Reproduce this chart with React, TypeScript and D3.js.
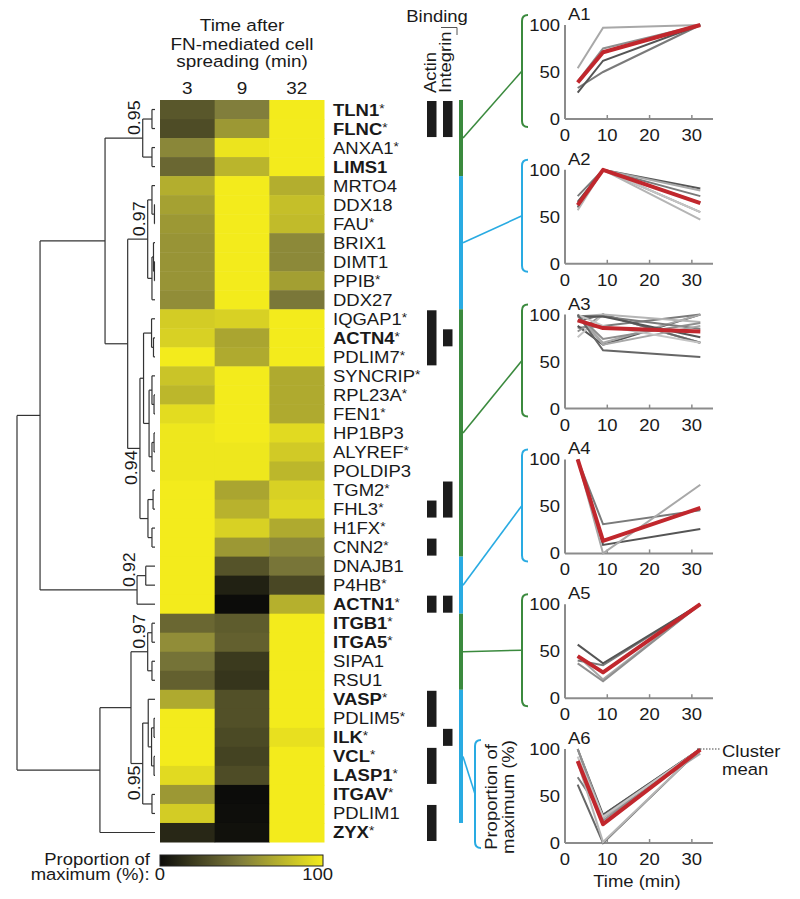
import React from "react";
import * as d3 from "d3";

// ---------- DATA ----------
const genes = [
  "TLN1", "FLNC", "ANXA1", "LIMS1", "MRTO4", "DDX18", "FAU", "BRIX1", "DIMT1", "PPIB", "DDX27",
  "IQGAP1", "ACTN4", "PDLIM7", "SYNCRIP", "RPL23A", "FEN1", "HP1BP3", "ALYREF", "POLDIP3", "TGM2",
  "FHL3", "H1FX", "CNN2", "DNAJB1", "P4HB", "ACTN1", "ITGB1", "ITGA5", "SIPA1", "RSU1", "VASP",
  "PDLIM5", "ILK", "VCL", "LASP1", "ITGAV", "PDLIM1", "ZYX",
];
const boldGenes = ["TLN1", "FLNC", "LIMS1", "ACTN4", "ACTN1", "ITGB1", "ITGA5", "VASP", "ILK", "VCL", "LASP1", "ITGAV", "ZYX"];
const starGenes = [
  "TLN1", "FLNC", "ANXA1", "FAU", "PPIB", "IQGAP1", "ACTN4", "PDLIM7", "SYNCRIP", "RPL23A", "FEN1",
  "ALYREF", "TGM2", "FHL3", "H1FX", "CNN2", "P4HB", "ACTN1", "ITGB1", "ITGA5", "VASP", "PDLIM5",
  "ILK", "VCL", "LASP1", "ITGAV", "ZYX",
];
const timePoints = [3, 9, 32];
const min3 = [33, 28, 54, 40, 72, 66, 62, 60, 60, 60, 57, 86, 88, 100, 82, 76, 93, 98, 98, 98, 100, 100, 100, 100, 100, 100, 100, 40, 57, 45, 37, 70, 100, 100, 100, 92, 62, 86, 12];
const min9 = [50, 62, 97, 75, 100, 100, 100, 100, 100, 100, 100, 88, 68, 70, 100, 100, 100, 100, 98, 98, 68, 74, 88, 62, 31, 9, 0, 35, 37, 20, 18, 30, 30, 27, 24, 28, 0, 1, 2];
const min32 = [100, 100, 100, 100, 72, 80, 78, 55, 55, 65, 47, 100, 100, 100, 70, 70, 70, 92, 85, 76, 88, 91, 70, 55, 46, 26, 73, 100, 100, 100, 100, 100, 100, 95, 100, 100, 100, 100, 100];
const clusterNames = ["A1", "A2", "A3", "A4", "A5", "A6"];
const clusterSizes = [4, 7, 13, 3, 4, 7];
const actinBinding = ["TLN1", "FLNC", "IQGAP1", "ACTN4", "PDLIM7", "FHL3", "CNN2", "ACTN1", "VASP", "PDLIM5", "VCL", "LASP1", "PDLIM1", "ZYX"];
const integrinBinding = ["TLN1", "FLNC", "ACTN4", "TGM2", "FHL3", "ACTN1", "ILK"];
const yTicks = [0, 50, 100];
const xTicks = [0, 10, 20, 30];

// dendrogram: [left, right, height, support label?, label side?]
type Tree = string | [Tree, Tree, number, string?, string?];
const dendrogram: Tree = [
  [
    [
      [["TLN1", "FLNC", 0.022], ["ANXA1", "LIMS1", 0.022], 0.089, "0.95", "up"],
      [
        [["MRTO4", ["DDX18", "FAU", 0.004], 0.022], [["BRIX1", ["DIMT1", "PPIB", 0.004], 0.011], "DDX27", 0.022], 0.053, "0.97", "up"],
        [
          [
            ["IQGAP1", ["ACTN4", "PDLIM7", 0.011], 0.025],
            [["SYNCRIP", ["RPL23A", "FEN1", 0.007], 0.022], [["HP1BP3", "ALYREF", 0.007], "POLDIP3", 0.022], 0.043],
            0.083,
          ],
          [["TGM2", "FHL3", 0.014], ["H1FX", "CNN2", 0.022], 0.051],
          0.109, "0.94", "down",
        ],
        0.198,
      ],
      0.362,
    ],
    [["DNAJB1", "P4HB", 0.067], "ACTN1", 0.13, "0.92", "up"],
    0.833,
  ],
  [
    [
      [["ITGB1", "ITGA5", 0.022], ["SIPA1", "RSU1", 0.022], 0.053, "0.97", "up"],
      [["VASP", [["PDLIM5", "ILK", 0.007], ["VCL", "LASP1", 0.007], 0.025], 0.049], ["ITGAV", "PDLIM1", 0.022], 0.089, "0.95", "down"],
      0.174,
    ],
    "ZYX",
    0.399,
  ],
  1.0,
];

// ---------- STYLE ----------
const FONT = "'Liberation Sans', Arial, Helvetica, sans-serif";
const SX = 1.1;
const GREEN = "#3b8a3e";
const BLUE = "#29abe2";
const RED = "#c1272d";
const AXIS = "#8c8c8c";
const INK = "#1a1a1a";
const grays = ["#7a7a7a", "#555555", "#a8a8a8", "#8f8f8f", "#c4c4c4", "#666666", "#b5b5b5"];

function Txt(props: any) {
  const { x, y, rot = 0, size = 16.8, anchor = "start", weight = "normal", fill = INK, children } = props;
  return (
    <text
      transform={`translate(${x},${y}) rotate(${rot}) scale(${SX},1)`}
      fontSize={size}
      textAnchor={anchor}
      fontWeight={weight}
      fill={fill}
    >
      {children}
    </text>
  );
}

export default function App() {
  const rowY = d3.scaleBand<string>().domain(genes).range([100, 842]);
  const rh = rowY.bandwidth();
  const rc = (g: string) => (rowY(g) as number) + rh / 2;
  const colX = d3.scaleBand<string>().domain(timePoints.map(String)).range([160, 324]);
  const series = [min3, min9, min32];
  const color = d3
    .scaleLinear<string>()
    .domain([0, 50, 100])
    .range(["#0c0c0a", "#817e3c", "#f3eb1c"])
    .interpolate(d3.interpolateRgb);

  // dendrogram layout
  const hx = d3.scaleLinear().domain([0, 1]).range([155, 17]);
  const segs: number[][] = [];
  const supLabels: { x: number; y: number; t: string; side: string }[] = [];
  function lay(n: Tree): { y: number; h: number } {
    if (typeof n === "string") return { y: rc(n), h: 0 };
    const [l, r, h, lab, side] = n;
    const a = lay(l);
    const b = lay(r);
    const x = hx(h);
    segs.push([x, a.y, x, b.y]);
    segs.push([x, a.y, hx(a.h), a.y]);
    segs.push([x, b.y, hx(b.h), b.y]);
    const y = (a.y + b.y) / 2;
    if (lab) supLabels.push({ x, y, t: lab, side: side || "up" });
    return { y, h };
  }
  lay(dendrogram);

  // clusters
  const clusters: { name: string; start: number; end: number }[] = [];
  let acc = 0;
  clusterSizes.forEach((s, i) => {
    clusters.push({ name: clusterNames[i], start: acc, end: acc + s - 1 });
    acc += s;
  });

  // binding runs
  function runs(list: string[]) {
    const out: [number, number][] = [];
    let cur: [number, number] | null = null;
    genes.forEach((g, i) => {
      if (list.includes(g)) {
        if (cur && cur[1] === i - 1) cur[1] = i;
        else {
          cur = [i, i];
          out.push(cur);
        }
      }
    });
    return out;
  }
  const actinRuns = runs(actinBinding);
  const integrinRuns = runs(integrinBinding);

  const cx = d3.scaleLinear().domain([0, 35]).range([565, 713]);
  const gradStops = d3.range(0, 101, 10);

  return (
    <svg
      width={800}
      height={899}
      style={{ position: "absolute", left: 0, top: 0, background: "#fff" }}
      fontFamily={FONT}
    >
      <defs>
        <linearGradient id="cbar" x1="0" x2="1" y1="0" y2="0">
          {gradStops.map((v) => (
            <stop key={v} offset={`${v}%`} stopColor={color(v)} />
          ))}
        </linearGradient>
      </defs>
      <rect x={0} y={0} width={800} height={899} fill="#fff" />

      {/* header */}
      <Txt x={242} y={31} size={17.2} anchor="middle">Time after</Txt>
      <Txt x={242} y={50} size={17.2} anchor="middle">FN-mediated cell</Txt>
      <Txt x={242} y={67} size={17.2} anchor="middle">spreading (min)</Txt>
      {timePoints.map((t) => (
        <Txt key={t} x={(colX(String(t)) as number) + colX.bandwidth() / 2} y={94} size={17.2} anchor="middle">
          {t}
        </Txt>
      ))}

      {/* heatmap */}
      {genes.map((g, i) =>
        timePoints.map((t, j) => (
          <rect
            key={g + t}
            x={colX(String(t))}
            y={rowY(g)}
            width={colX.bandwidth() + 0.5}
            height={rh + 0.5}
            fill={color(series[j][i])}
          />
        ))
      )}

      {/* dendrogram */}
      <g stroke="#333" strokeWidth={1.2} fill="none">
        {segs.map((s, i) => (
          <line key={i} x1={s[0]} y1={s[1]} x2={s[2]} y2={s[3]} />
        ))}
      </g>
      {supLabels.map((l, i) =>
        l.side === "up" ? (
          <Txt key={i} x={l.x - 2.5} y={l.y - 3} rot={-90} size={16.2} anchor="start">{l.t}</Txt>
        ) : (
          <Txt key={i} x={l.x - 2.5} y={l.y + 2} rot={-90} size={16.2} anchor="end">{l.t}</Txt>
        )
      )}

      {/* row labels */}
      {genes.map((g) => (
        <Txt key={g} x={333} y={rc(g) + 6}>
          <tspan fontWeight={boldGenes.includes(g) ? "bold" : "normal"}>{g}</tspan>
          {starGenes.includes(g) && (
            <tspan fontSize={12.5} dy={-3} fontWeight="normal">*</tspan>
          )}
        </Txt>
      ))}

      {/* binding */}
      <Txt x={437} y={22} anchor="middle">Binding</Txt>
      <line x1={441} x2={457} y1={27.5} y2={27.5} stroke="#555" strokeWidth={1} />
      <line x1={457} x2={457} y1={27.5} y2={35} stroke="#555" strokeWidth={1} />
      <Txt x={436} y={93} rot={-90}>Actin</Txt>
      <Txt x={451} y={93} rot={-90}>Integrin</Txt>
      {actinRuns.map(([a, b], i) => (
        <rect key={"a" + i} x={427} y={(rowY(genes[a]) as number) + 1} width={9.5} height={(b - a + 1) * rh - 2} fill="#1c1c1c" />
      ))}
      {integrinRuns.map(([a, b], i) => (
        <rect key={"i" + i} x={443} y={(rowY(genes[a]) as number) + 1} width={9.5} height={(b - a + 1) * rh - 2} fill="#1c1c1c" />
      ))}

      {/* cluster bar + connectors + charts */}
      {clusters.map((c, i) => {
        const col = i % 2 === 0 ? GREEN : BLUE;
        const top = rowY(genes[c.start]) as number;
        const bot = (rowY(genes[c.end]) as number) + rh;
        const mid = (top + bot) / 2;
        const y100 = 25 + 144.8 * i;
        const y0 = y100 + 94;
        const cy = d3.scaleLinear().domain([0, 100]).range([y0, y100]);
        const last = i === clusters.length - 1;
        const bx = last ? 475 : 522;
        const bt = last ? 740 : y100 - 10;
        const bb = last ? 848 : y0 + 8;
        const bm = (bt + bb) / 2;
        const members = d3.range(c.start, c.end + 1);
        const line = d3
          .line<[number, number]>()
          .x((d) => cx(d[0]))
          .y((d) => cy(d[1]));
        const meanPts: [number, number][] = timePoints.map((t, j) => [
          t,
          d3.mean(members, (k) => series[j][k]) as number,
        ]);
        return (
          <g key={c.name}>
            <rect x={459} y={top} width={4} height={bot - top} fill={col} />
            <line x1={463} y1={mid} x2={bx} y2={bm} stroke={col} strokeWidth={1.6} />
            <path
              d={`M${bx + 6},${bt} Q${bx},${bt} ${bx},${bt + 6} L${bx},${bb - 6} Q${bx},${bb} ${bx + 6},${bb}`}
              fill="none"
              stroke={col}
              strokeWidth={2}
            />
            {/* axes */}
            <line x1={565} x2={565} y1={y100} y2={y0} stroke={AXIS} strokeWidth={2} />
            <line x1={565} x2={713} y1={y0} y2={y0} stroke={AXIS} strokeWidth={2} />
            {xTicks.slice(1).map((t) => (
              <line key={t} x1={cx(t)} x2={cx(t)} y1={y0} y2={y0 - 4} stroke={AXIS} strokeWidth={1.5} />
            ))}
            {yTicks.map((t) => (
              <Txt key={t} x={560} y={cy(t) + 6} anchor="end">{t}</Txt>
            ))}
            {xTicks.map((t) => (
              <Txt key={t} x={cx(t)} y={y0 + 22} anchor="middle">{t}</Txt>
            ))}
            <Txt x={568} y={y100 - 5}>{c.name}</Txt>
            {/* gene lines */}
            {members.map((k, m) => (
              <path
                key={k}
                d={line(timePoints.map((t, j) => [t, series[j][k]] as [number, number])) as string}
                fill="none"
                stroke={grays[m % grays.length]}
                strokeWidth={2}
              />
            ))}
            <path d={line(meanPts) as string} fill="none" stroke={RED} strokeWidth={4} strokeLinejoin="round" />
          </g>
        );
      })}

      {/* A6 annotations */}
      <Txt x={497} y={797} rot={-90} anchor="middle">Proportion of</Txt>
      <Txt x={514} y={797} rot={-90} anchor="middle">maximum (%)</Txt>
      <line x1={697} x2={720} y1={749} y2={749} stroke="#444" strokeWidth={1.2} strokeDasharray="1.5,1.5" />
      <Txt x={722} y={757}>Cluster</Txt>
      <Txt x={722} y={775}>mean</Txt>
      <Txt x={637} y={887} anchor="middle">Time (min)</Txt>

      {/* colour bar */}
      <rect x={160} y={855} width={163} height={11} fill="url(#cbar)" stroke="#222" strokeWidth={1} />
      <Txt x={150} y={865} anchor="end">Proportion of</Txt>
      <Txt x={165} y={880} anchor="end">maximum (%): 0</Txt>
      <Txt x={333} y={880} anchor="end">100</Txt>
    </svg>
  );
}
